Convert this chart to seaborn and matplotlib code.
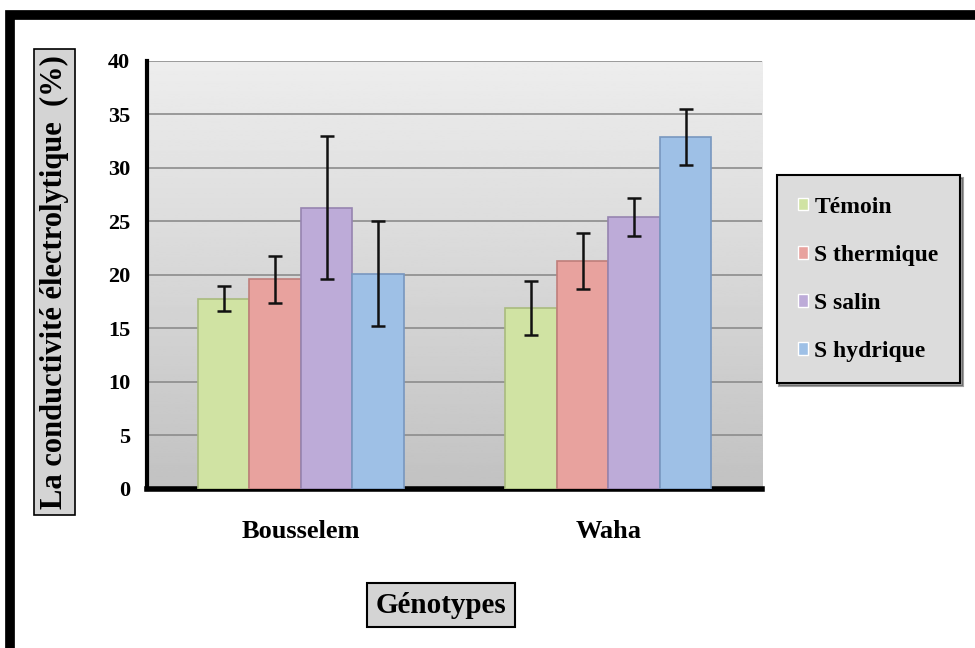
import numpy as np
import pandas as pd
import matplotlib
matplotlib.use("Agg")
import matplotlib.pyplot as plt
import seaborn as sns
from matplotlib.patches import Rectangle

genotypes = ["Bousselem", "Waha"]
treatments = ["Témoin", "S thermique", "S salin", "S hydrique"]
means_bousselem = [17.8, 19.6, 26.3, 20.1]
means_waha = [16.9, 21.3, 25.4, 32.9]
err_bousselem = [1.2, 2.2, 6.7, 4.9]
err_waha = [2.5, 2.6, 1.8, 2.6]
yticks = [0, 5, 10, 15, 20, 25, 30, 35, 40]
colors = ["#d0e3a3", "#e8a29e", "#bdabd8", "#9ec0e6"]
edgecolors = ["#a9bb7e", "#bf7e7b", "#9684b0", "#7897bf"]

rows = []
for g, ms, es in [("Bousselem", means_bousselem, err_bousselem), ("Waha", means_waha, err_waha)]:
    for t, m, e in zip(treatments, ms, es):
        rows.append({"Génotype": g, "Traitement": t, "Valeur": m, "Erreur": e})
df = pd.DataFrame(rows)

sns.set_style("white")
plt.rcParams["font.family"] = ["Liberation Serif", "DejaVu Serif"]
plt.rcParams["font.weight"] = "bold"
plt.rcParams["text.color"] = "black"
plt.rcParams["xtick.color"] = "black"
plt.rcParams["ytick.color"] = "black"
plt.rcParams["axes.labelcolor"] = "black"

fig = plt.figure(figsize=(9.75, 6.48), dpi=100)
ax = fig.add_axes([0.1508, 0.2454, 0.6308, 0.6605])

# gradient background
grad = np.linspace(0.93, 0.76, 256).reshape(-1, 1)
ax.imshow(grad, cmap="gray", vmin=0, vmax=1, aspect="auto",
          extent=[-0.5, 1.5, 0, 40], origin="upper", zorder=0)

sns.barplot(data=df, x="Génotype", y="Valeur", hue="Traitement", order=genotypes,
            hue_order=treatments, palette=colors, errorbar=None, width=0.67,
            saturation=1, ax=ax, zorder=3, legend=True)

bar_containers = list(ax.containers)[:len(treatments)]
for ci, cont in enumerate(bar_containers):
    t = treatments[ci]
    for bi, bar in enumerate(cont):
        bar.set_edgecolor(edgecolors[ci])
        bar.set_linewidth(1.2)
        g = genotypes[bi]
        e = df[(df["Génotype"] == g) & (df["Traitement"] == t)]["Erreur"].values[0]
        xc = bar.get_x() + bar.get_width() / 2
        ax.errorbar(xc, bar.get_height(), yerr=e, fmt="none", ecolor="#111111",
                    elinewidth=1.8, capsize=5, capthick=1.8, zorder=5)

ax.set_xlim(-0.5, 1.5)
ax.set_ylim(0, 40)
ax.set_yticks(yticks)
ax.set_yticklabels([str(v) for v in yticks], fontsize=16, fontweight="bold", color="black")
ax.set_xticks([0, 1])
ax.set_xticklabels(genotypes, fontsize=19, fontweight="bold", color="black")
ax.tick_params(axis="y", direction="out", length=6, width=3, color="black", pad=6)
ax.tick_params(axis="x", length=0, pad=22)
ax.yaxis.grid(True, color="#8c8c8c", linewidth=1.2, zorder=1)
ax.set_axisbelow(True)
for s in ["top", "right"]:
    ax.spines[s].set_visible(False)
ax.spines["left"].set_linewidth(3)
ax.spines["bottom"].set_linewidth(4)
ax.spines["left"].set_color("black")
ax.spines["bottom"].set_color("black")
ax.set_xlabel("")
ax.set_ylabel("")

leg = ax.legend(loc="center left", bbox_to_anchor=(1.012, 0.49), frameon=True,
                prop={"family": "Liberation Serif", "weight": "bold", "size": 17},
                handlelength=0.45, handleheight=0.45, handletextpad=0.25,
                labelspacing=1.15, borderpad=0.9, borderaxespad=0.3,
                fancybox=False, shadow=True)
leg.get_frame().set_edgecolor("black")
leg.get_frame().set_linewidth(1.5)
leg.get_frame().set_facecolor("#dcdcdc")
for txt in leg.get_texts():
    txt.set_color("black")

fig.text(0.056, 0.565, "La conductivité électrolytique  (%)", rotation=90, ha="center",
         va="center", fontsize=22, fontweight="bold", color="black",
         bbox=dict(boxstyle="square,pad=0.2", facecolor="#d4d4d4", edgecolor="black", linewidth=1.2))
fig.text(0.452, 0.066, "Génotypes", ha="center", va="center", fontsize=21, fontweight="bold",
         color="black",
         bbox=dict(boxstyle="square,pad=0.3", facecolor="#d4d4d4", edgecolor="black", linewidth=1.5))

# outer black frame
fig.patches.append(Rectangle((0.01, -0.05), 1.05, 1.027, transform=fig.transFigure,
                             fill=False, edgecolor="black", linewidth=7, zorder=10))

fig.savefig("out.png", dpi=100, facecolor="white")
